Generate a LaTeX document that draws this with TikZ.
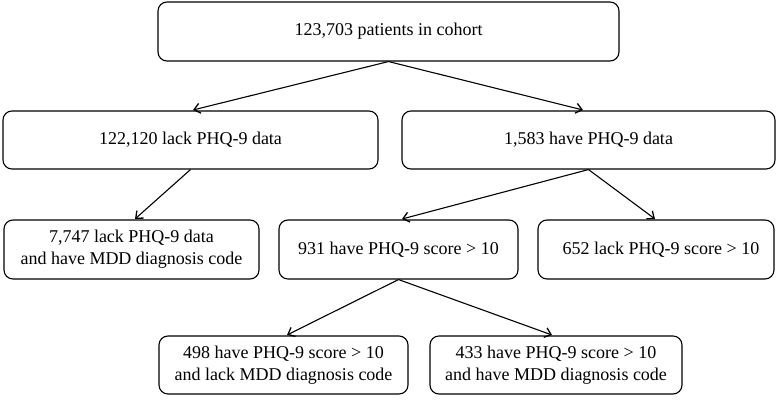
\documentclass[tikz,border=0pt]{standalone}
\usepackage{fontspec}
\setmainfont{Liberation Serif}
\usetikzlibrary{arrows.meta}
\begin{document}
\begin{tikzpicture}[x=1pt,y=-1pt,
  box/.style={draw, line width=1.1pt, rounded corners=9pt, align=center, inner sep=0pt,
    font=\fontsize{18}{21.7}\selectfont},
  conn/.style={line width=1.1pt, -{Straight Barb[length=6pt,width=10pt,line width=1.3pt]}}]
\useasboundingbox (0,0) rectangle (779,401);
\node[box, minimum width=461pt, minimum height=59pt] (top) at (388.5,31.5) {123,703 patients in cohort};
\node[box, minimum width=375pt, minimum height=58pt] (lack) at (190.5,140) {122,120 lack PHQ-9 data};
\node[box, minimum width=373pt, minimum height=58pt] (have) at (588.5,140) {1,583 have PHQ-9 data};
\node[box, minimum width=255pt, minimum height=59pt] (mdd) at (131.5,249.5) {7,747 lack PHQ-9 data\\and have MDD diagnosis code};
\node[box, minimum width=239pt, minimum height=59pt] (hi) at (398.5,249.5) {931 have PHQ-9 score > 10};
\node[box, minimum width=236pt, minimum height=59pt] (lo) at (656,249.5) {\hspace*{10pt}652 lack PHQ-9 score > 10};
\node[box, minimum width=249pt, minimum height=58pt] (hinomdd) at (283.5,365) {498 have PHQ-9 score > 10\\and lack MDD diagnosis code};
\node[box, minimum width=252pt, minimum height=58pt] (himdd) at (556,365) {433 have PHQ-9 score > 10\\and have MDD diagnosis code};
\coordinate (e1) at (193,110);
\coordinate (e2) at (583,110);
\coordinate (e3) at (135,219);
\coordinate (e4) at (402,219);
\coordinate (e5) at (655,219);
\coordinate (e6) at (287,335);
\coordinate (e7) at (552,335);
\draw[conn] (top.south) -- (e1);
\draw[conn] (top.south) -- (e2);
\draw[conn] (lack.south) -- (e3);
\draw[conn] (have.south) -- (e4);
\draw[conn] (have.south) -- (e5);
\draw[conn] (hi.south) -- (e6);
\draw[conn] (hi.south) -- (e7);
\end{tikzpicture}
\end{document}
